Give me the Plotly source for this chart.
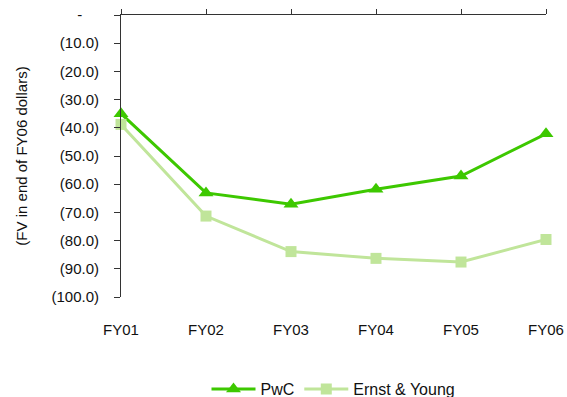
import plotly.graph_objects as go

categories = ["FY01", "FY02", "FY03", "FY04", "FY05", "FY06"]
pwc = [-35.0, -63.1, -67.1, -61.8, -57.1, -42.1]
ey = [-38.8, -71.3, -83.9, -86.3, -87.6, -79.6]
ytick_vals = [0, -10, -20, -30, -40, -50, -60, -70, -80, -90, -100]
ytick_text = ["-\u00a0\u00a0\u00a0\u00a0", "(10.0)", "(20.0)", "(30.0)", "(40.0)", "(50.0)", "(60.0)",
              "(70.0)", "(80.0)", "(90.0)", "(100.0)"]

FONT = "Liberation Sans, Arial, sans-serif"
FS = 15
x_idx = list(range(len(categories)))

fig = go.Figure()
fig.add_trace(go.Scatter(
    x=x_idx, y=pwc, name="PwC", mode="lines+markers",
    line=dict(color="#3DC800", width=3),
    marker=dict(symbol="triangle-up", size=13, color="#3DC800"),
    cliponaxis=False,
))
fig.add_trace(go.Scatter(
    x=x_idx, y=ey, name="Ernst & Young", mode="lines+markers",
    line=dict(color="#C0E59A", width=3),
    marker=dict(symbol="square", size=11, color="#C0E59A"),
    cliponaxis=False,
))
# empty helper trace so that the top axis line is drawn
fig.add_trace(go.Scatter(
    x=x_idx, y=[None] * len(x_idx), xaxis="x2", mode="lines",
    showlegend=False, hoverinfo="skip",
))

fig.update_layout(
    width=567, height=397,
    margin=dict(l=121, r=21, t=15, b=100, autoexpand=False),
    paper_bgcolor="white", plot_bgcolor="white",
    font=dict(family=FONT, size=FS, color="#111"),
    showlegend=True,
    legend=dict(orientation="h", x=0.5, xanchor="center",
                yref="container", y=0.02, yanchor="middle",
                font=dict(family=FONT, size=16, color="#111"),
                itemwidth=44, tracegroupgap=0),
    xaxis=dict(
        range=[0, 5], tickvals=x_idx, ticktext=categories,
        showline=False, ticks="", showgrid=False, zeroline=False,
        automargin=False,
        ticklabelstandoff=22, tickfont=dict(size=FS, color="#111"),
    ),
    xaxis2=dict(
        overlaying="x", side="top", anchor="y",
        range=[0, 5], tickvals=x_idx, showticklabels=False,
        showline=True, linecolor="#333", linewidth=1,
        ticks="outside", ticklen=5, tickcolor="#333",
        showgrid=False, zeroline=False, automargin=False,
    ),
    yaxis=dict(
        range=[-100, 0], tickvals=ytick_vals, ticktext=ytick_text,
        showline=True, linecolor="#333", linewidth=1,
        ticks="outside", ticklen=6, tickcolor="#333",
        showgrid=False, zeroline=False, automargin=False,
        ticklabelstandoff=12, tickfont=dict(size=FS, color="#111"),
        title=dict(text="(FV in end of FY06 dollars)", standoff=20,
                   font=dict(size=FS, color="#111")),
    ),
)

fig.write_html("out.html")
